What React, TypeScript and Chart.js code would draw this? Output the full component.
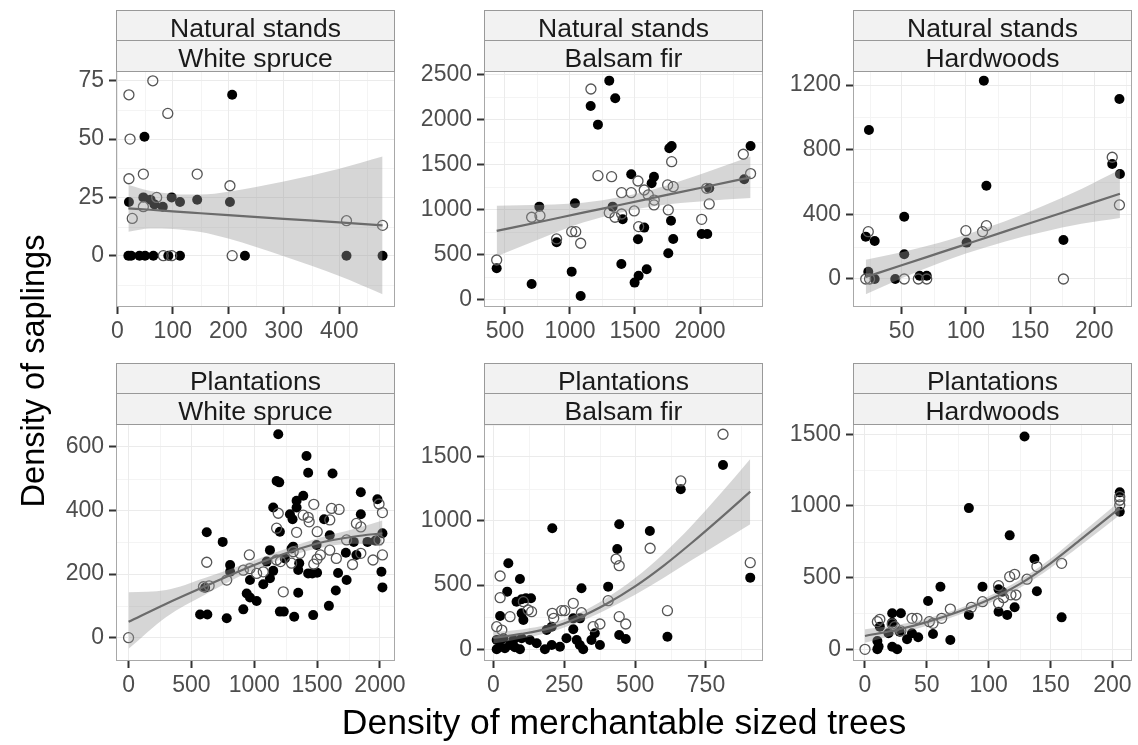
import React, { useEffect, useRef } from 'react';
import { Chart, registerables } from 'chart.js';

Chart.register(...registerables);

type Pt = [number, number];

// ---------- Panel 1: Natural stands / White spruce ----------
const p1Filled: Pt[] = [[207,69],[49,51],[21,23],[47,25],[60,24],[67,22],[82,21],[98,25],[113,23],[144,24],[203,23],[20,0],[25,0],[40,0],[50,0],[65,0],[92,0],[113,0],[230,0],[413,0],[478,0]];
const p1Open: Pt[] = [[21,69],[64,75],[91,61],[23,50],[21,33],[47,35],[144,35],[203,30],[27,16],[47,21],[71,25],[413,15],[478,13],[207,0],[83,0],[98,0]];
const p1SmoothX = [20,60,100,150,200,300,400,478];
const p1Fit = [20.3,19.7,19.0,18.2,17.4,15.8,14.3,13.0];
const p1Upper = [30.3,27.7,26.5,26.2,27.4,31.8,37.3,42.5];
const p1Lower = [10.3,11.7,11.5,10.2,7.4,-0.2,-8.7,-16.5];
const p1XTicks = [0,100,200,300,400];
const p1YTicks = [0,25,50,75];

// ---------- Panel 2: Natural stands / Balsam fir ----------
const p2Filled: Pt[] = [[436,352],[705,178],[764,1037],[897,641],[1013,315],[1038,1074],[1082,44],[1159,2155],[1215,1948],[1302,2437],[1348,2241],[1328,1037],[1395,400],[1405,896],[1471,1396],[1497,193],[1528,270],[1523,674],[1571,804],[1590,341],[1628,1296],[1646,1370],[1756,519],[1764,1685],[1782,1711],[1777,881],[1794,678],[2013,733],[2056,733],[2071,1241],[2340,1341],[2389,1711]];
const p2Open: Pt[] = [[436,444],[705,919],[769,937],[897,678],[1013,759],[1044,759],[1082,630],[1161,2344],[1215,1381],[1320,1370],[1302,970],[1346,919],[1397,955],[1397,1192],[1471,1192],[1494,989],[1523,1322],[1528,815],[1571,1222],[1602,1167],[1646,1056],[1648,1110],[1756,1000],[1751,1278],[1794,1259],[1782,1537],[2013,896],[2051,1241],[2071,1067],[2333,1619],[2389,1404]];
const p2SmoothX = [436,800,1100,1400,1700,2000,2389];
const p2Fit = [767,878,970,1061,1153,1244,1363];
const p2Upper = [1047,1058,1080,1146,1253,1394,1594];
const p2Lower = [487,698,860,976,1053,1094,1132];
const p2XTicks = [500,1000,1500,2000];
const p2YTicks = [0,500,1000,1500,2000,2500];

// ---------- Panel 3: Natural stands / Hardwoods ----------
const p3Filled: Pt[] = [[24.5,922],[22,262],[29,235],[24,45],[29,0],[45,0],[52,385],[52,153],[64,20],[69.5,20],[100.6,225],[114,1227],[116,577],[176,241],[214,711],[219.6,1113],[220,650]];
const p3Open: Pt[] = [[22,0],[24,293],[25,0],[52,0],[63,0],[69.5,0],[100,299],[113,293],[116,330],[176,0],[214,753],[219.6,458]];
const p3SmoothX = [22,50,80,100,130,160,190,220];
const p3Fit = [12,85,163,215,293,371,449,527];
const p3Upper = [119,165,225,273,355,451,557,677];
const p3Lower = [-95,5,101,157,231,291,341,377];
const p3XTicks = [50,100,150,200];
const p3YTicks = [0,400,800,1200];

// ---------- Panel 4: Plantations / White spruce ----------
const p4Filled: Pt[] = [[1191,639],[1416,571],[1429,518],[1623,516],[1178,492],[1199,488],[1848,457],[1390,446],[1337,430],[1980,435],[1151,409],[1337,409],[1284,388],[1305,372],[1556,372],[1848,388],[622,331],[1204,333],[749,301],[1601,322],[1125,275],[1310,286],[1496,291],[1792,301],[2020,328],[1099,239],[1729,267],[1813,260],[808,228],[808,207],[1358,234],[1350,213],[1151,210],[1429,202],[1462,202],[1500,204],[1667,203],[966,181],[1125,187],[1072,168],[1735,181],[2012,207],[2020,158],[940,139],[966,126],[1019,115],[1350,141],[1649,148],[609,157],[569,73],[627,73],[781,61],[913,89],[1204,82],[1235,82],[1318,66],[1469,71],[1594,100],[1901,301],[1965,305],[1244,249],[1297,280]];
const p4Open: Pt[] = [[0,0],[622,237],[596,160],[641,163],[781,181],[961,260],[913,212],[966,217],[1019,202],[1072,207],[1178,344],[1191,391],[1231,144],[1178,244],[1209,239],[1310,270],[1364,265],[1297,234],[1337,331],[1390,385],[1429,378],[1437,364],[1474,419],[1501,333],[1474,231],[1500,247],[1526,260],[1601,370],[1615,406],[1675,403],[1601,275],[1653,249],[1735,307],[1782,230],[1848,265],[1813,359],[1848,348],[1945,244],[1993,420],[2020,393],[2020,260],[1993,307]];
const p4SmoothX = [0,300,600,900,1200,1500,1800,2020];
const p4Fit = [50,107,160,212,258,296,318,328];
const p4Upper = [143,150,187,228,272,312,342,368];
const p4Lower = [-35,65,133,196,244,280,295,288];
const p4XTicks = [0,500,1000,1500,2000];
const p4YTicks = [0,200,400,600];

// ---------- Panel 5: Plantations / Balsam fir ----------
const p5Filled: Pt[] = [[810,1436],[661,1246],[208,943],[444,974],[552,922],[437,781],[906,558],[53,670],[94,548],[49,449],[311,475],[405,488],[82,371],[100,390],[115,397],[133,397],[24,259],[106,228],[614,98],[444,111],[467,80],[282,156],[282,241],[306,241],[12,0],[24,20],[41,8],[59,34],[76,16],[94,0],[12,72],[36,86],[71,72],[100,86],[129,72],[153,47],[182,0],[206,34],[235,20],[258,86],[294,72],[305,34],[317,0],[346,72],[358,125],[376,34],[188,150],[206,176],[100,280]];
const p5Open: Pt[] = [[810,1675],[661,1311],[553,787],[433,703],[444,651],[906,675],[614,301],[405,379],[444,254],[467,197],[282,358],[252,301],[311,285],[352,176],[376,197],[24,571],[24,402],[59,254],[12,176],[30,150],[123,306],[135,293],[106,371],[208,280],[213,241],[241,301]];
const p5SmoothX = [0,100,200,300,400,500,600,700,800,906];
const p5Fit = [90,120,165,245,355,490,650,830,1020,1228];
const p5Upper = [135,155,197,280,400,555,745,965,1210,1483];
const p5Lower = [45,85,133,210,310,425,555,695,830,973];
const p5XTicks = [0,250,500,750];
const p5YTicks = [0,500,1000,1500];

// ---------- Panel 6: Plantations / Hardwoods ----------
const p6Filled: Pt[] = [[129,1485],[84,985],[117,795],[206,1095],[206,960],[137,630],[139,405],[159,223],[61,437],[95,437],[51,337],[55,107],[69,65],[84,240],[108,419],[111,402],[108,262],[115,240],[121,293],[22,251],[29,251],[22,186],[12,158],[10,58],[10,0],[11,20],[22,18],[26,0],[34,70],[38,112],[43,84],[19,112],[28,123]];
const p6Open: Pt[] = [[0,0],[10,193],[12,209],[22,177],[24,158],[29,128],[38,216],[42,216],[52,193],[55,181],[62,216],[69,281],[86,293],[95,332],[108,444],[117,507],[121,523],[108,321],[112,360],[118,380],[131,489],[139,577],[159,600],[206,1007],[206,1065],[122,379],[206,1040]];
const p6SmoothX = [0,25,50,75,100,125,150,175,206];
const p6Fit = [93,135,190,260,345,455,600,770,985];
const p6Upper = [140,167,215,282,370,483,632,810,1033];
const p6Lower = [46,103,165,238,320,427,568,730,937];
const p6XTicks = [0,50,100,150,200];
const p6YTicks = [0,500,1000,1500];

const stripTop = ['Natural stands', 'Plantations'];
const stripSpecies = ['White spruce', 'Balsam fir', 'Hardwoods'];
const xTitle = 'Density of merchantable sized trees';
const yTitle = 'Density of saplings';

const FONT = "'Liberation Sans', Arial, Helvetica, sans-serif";

interface PanelSpec {
  filled: Pt[]; open: Pt[];
  sx: number[]; fit: number[]; upper: number[]; lower: number[];
  xTicks: number[]; yTicks: number[];
  xMin: number; xMax: number; yMin: number; yMax: number;
  left: number; top: number; w: number; h: number;
}

const Y_AXIS_W = 70;
const X_AXIS_H = 45;
const PAD_TOP = 30;
const PAD_RIGHT = 30;
const TICK_FONT = 23;

const colLeft = [116, 484, 853];
const rowTop = [71, 424];
const rowH = [236, 237];
const PW = 279;

const panels: PanelSpec[] = [
  { filled: p1Filled, open: p1Open, sx: p1SmoothX, fit: p1Fit, upper: p1Upper, lower: p1Lower, xTicks: p1XTicks, yTicks: p1YTicks, xMin: -2.3, xMax: 500.4, yMin: -22, yMax: 79.2, left: colLeft[0], top: rowTop[0], w: PW, h: rowH[0] },
  { filled: p2Filled, open: p2Open, sx: p2SmoothX, fit: p2Fit, upper: p2Upper, lower: p2Lower, xTicks: p2XTicks, yTicks: p2YTicks, xMin: 338.5, xMax: 2484.6, yMin: -78, yMax: 2544, left: colLeft[1], top: rowTop[0], w: PW, h: rowH[0] },
  { filled: p3Filled, open: p3Open, sx: p3SmoothX, fit: p3Fit, upper: p3Upper, lower: p3Lower, xTicks: p3XTicks, yTicks: p3YTicks, xMin: 12.1, xMax: 229.4, yMin: -173.2, yMax: 1286.6, left: colLeft[2], top: rowTop[0], w: PW, h: rowH[0] },
  { filled: p4Filled, open: p4Open, sx: p4SmoothX, fit: p4Fit, upper: p4Upper, lower: p4Lower, xTicks: p4XTicks, yTicks: p4YTicks, xMin: -100, xMax: 2120, yMin: -73.2, yMax: 671.3, left: colLeft[0], top: rowTop[1], w: PW, h: rowH[1] },
  { filled: p5Filled, open: p5Open, sx: p5SmoothX, fit: p5Fit, upper: p5Upper, lower: p5Lower, xTicks: p5XTicks, yTicks: p5YTicks, xMin: -32.8, xMax: 951, yMin: -91.1, yMax: 1754.7, left: colLeft[1], top: rowTop[1], w: PW, h: rowH[1] },
  { filled: p6Filled, open: p6Open, sx: p6SmoothX, fit: p6Fit, upper: p6Upper, lower: p6Lower, xTicks: p6XTicks, yTicks: p6YTicks, xMin: -9.7, xMax: 215.9, yMin: -81.6, yMax: 1571.9, left: colLeft[2], top: rowTop[1], w: PW, h: rowH[1] },
];

function minorOf(ticks: number[], min: number, max: number): number[] {
  const out: number[] = [];
  const step = ticks[1] - ticks[0];
  const all = [ticks[0] - step, ...ticks, ticks[ticks.length - 1] + step];
  for (let i = 0; i < all.length - 1; i++) {
    const m = (all[i] + all[i + 1]) / 2;
    if (m > min && m < max) out.push(m);
  }
  return out;
}

const decoPlugin = {
  id: 'ggDeco',
  beforeDraw(chart: any, _args: any, opts: any) {
    const { ctx, chartArea: a, scales } = chart;
    ctx.save();
    ctx.strokeStyle = '#F4F4F4';
    ctx.lineWidth = 1;
    for (const v of opts.xMinor || []) {
      const px = Math.round(scales.x.getPixelForValue(v)) + 0.5;
      ctx.beginPath(); ctx.moveTo(px, a.top); ctx.lineTo(px, a.bottom); ctx.stroke();
    }
    for (const v of opts.yMinor || []) {
      const py = Math.round(scales.y.getPixelForValue(v)) + 0.5;
      ctx.beginPath(); ctx.moveTo(a.left, py); ctx.lineTo(a.right, py); ctx.stroke();
    }
    ctx.restore();
  },
  afterDraw(chart: any) {
    const { ctx, chartArea: a } = chart;
    ctx.save();
    ctx.strokeStyle = '#A8A8A8';
    ctx.lineWidth = 1;
    ctx.strokeRect(a.left + 0.5, a.top + 0.5, a.right - a.left - 1, a.bottom - a.top - 1);
    ctx.restore();
  },
};

function Panel({ spec }: { spec: PanelSpec }) {
  const ref = useRef<HTMLCanvasElement>(null);
  const cw = Y_AXIS_W + spec.w + PAD_RIGHT;
  const ch = PAD_TOP + spec.h + X_AXIS_H;
  useEffect(() => {
    if (!ref.current) return;
    const toPts = (xs: number[], ys: number[]) => xs.map((x, i) => ({ x, y: ys[i] }));
    const chart = new Chart(ref.current, {
      type: 'line',
      data: {
        datasets: [
          {
            label: 'fit', data: toPts(spec.sx, spec.fit), borderColor: '#6B6B6B', borderWidth: 2.2,
            pointRadius: 0, fill: false, cubicInterpolationMode: 'monotone', order: 0,
          },
          {
            label: 'upper', data: toPts(spec.sx, spec.upper), borderColor: 'rgba(0,0,0,0)', borderWidth: 1,
            pointRadius: 0, fill: false, cubicInterpolationMode: 'monotone', order: 1,
          },
          {
            label: 'lower', data: toPts(spec.sx, spec.lower), borderColor: 'rgba(0,0,0,0)', borderWidth: 1,
            pointRadius: 0, fill: 1, backgroundColor: 'rgba(153,153,153,0.4)', cubicInterpolationMode: 'monotone', order: 1,
          },
          {
            label: 'open', data: spec.open.map(([x, y]) => ({ x, y })), showLine: false,
            pointRadius: 5, pointBorderWidth: 1.3, pointBorderColor: '#555555', pointBackgroundColor: 'rgba(0,0,0,0)', order: 2,
          },
          {
            label: 'filled', data: spec.filled.map(([x, y]) => ({ x, y })), showLine: false,
            pointRadius: 5, pointBorderWidth: 0, pointBorderColor: '#000000', pointBackgroundColor: '#000000', order: 3,
          },
        ] as any,
      },
      options: {
        animation: false,
        responsive: false,
        events: [],
        layout: { padding: { top: PAD_TOP, right: PAD_RIGHT, left: 0, bottom: 0 } },
        plugins: {
          legend: { display: false },
          tooltip: { enabled: false },
          ggDeco: {
            xMinor: minorOf(spec.xTicks, spec.xMin, spec.xMax),
            yMinor: minorOf(spec.yTicks, spec.yMin, spec.yMax),
          },
        } as any,
        scales: {
          x: {
            type: 'linear', min: spec.xMin, max: spec.xMax,
            afterBuildTicks: (s: any) => { s.ticks = spec.xTicks.map((v) => ({ value: v })); },
            afterFit: (s: any) => { s.height = X_AXIS_H; },
            grid: { color: '#EBEBEB', lineWidth: 1, tickColor: '#333333', tickLength: 7, tickWidth: 2 },
            border: { display: false },
            ticks: {
              color: '#4D4D4D', font: { family: FONT, size: TICK_FONT }, padding: 4,
              maxRotation: 0, autoSkip: false, callback: (v: any) => String(v),
            },
          },
          y: {
            type: 'linear', min: spec.yMin, max: spec.yMax,
            afterBuildTicks: (s: any) => { s.ticks = spec.yTicks.map((v) => ({ value: v })); },
            afterFit: (s: any) => { s.width = Y_AXIS_W; },
            grid: { color: '#EBEBEB', lineWidth: 1, tickColor: '#333333', tickLength: 7, tickWidth: 2 },
            border: { display: false },
            ticks: {
              color: '#4D4D4D', font: { family: FONT, size: TICK_FONT }, padding: 5,
              autoSkip: false, callback: (v: any) => String(v),
            },
          },
        } as any,
      },
      plugins: [decoPlugin],
    });
    return () => chart.destroy();
  }, []);
  return (
    <canvas
      ref={ref}
      width={cw}
      height={ch}
      style={{ position: 'absolute', left: spec.left - Y_AXIS_W, top: spec.top - PAD_TOP, width: cw, height: ch }}
    />
  );
}

function Strip({ left, top, w, a, b }: { left: number; top: number; w: number; a: string; b: string }) {
  const txt: React.CSSProperties = {
    position: 'absolute', left: 0, width: '100%', textAlign: 'center', fontFamily: FONT,
    fontSize: 26.5, color: '#1A1A1A', lineHeight: '30px', whiteSpace: 'nowrap',
  };
  return (
    <div style={{ position: 'absolute', left, top, width: w, height: 62, boxSizing: 'border-box', border: '1px solid #999999', background: '#F2F2F2' }}>
      <div style={{ ...txt, top: 2 }}>{a}</div>
      <div style={{ position: 'absolute', left: 0, top: 29, width: '100%', height: 1, background: '#999999' }} />
      <div style={{ ...txt, top: 32 }}>{b}</div>
    </div>
  );
}

export default function App() {
  return (
    <div style={{ position: 'absolute', left: 0, top: 0, width: 1138, height: 745, background: '#FFFFFF', overflow: 'hidden' }}>
      {panels.map((p, i) => (
        <Panel key={'p' + i} spec={p} />
      ))}
      {panels.map((p, i) => (
        <Strip key={'s' + i} left={p.left} top={p.top - 61} w={p.w} a={stripTop[Math.floor(i / 3)]} b={stripSpecies[i % 3]} />
      ))}
      <div style={{ position: 'absolute', left: 624 - 400, top: 704, width: 800, height: 36, lineHeight: '36px', textAlign: 'center', fontFamily: FONT, fontSize: 35.5, color: '#000' }}>
        {xTitle}
      </div>
      <div style={{ position: 'absolute', left: 33 - 200, top: 371 - 17, width: 400, height: 34, lineHeight: '34px', textAlign: 'center', fontFamily: FONT, fontSize: 32.5, color: '#000', transform: 'rotate(-90deg)' }}>
        {yTitle}
      </div>
    </div>
  );
}
